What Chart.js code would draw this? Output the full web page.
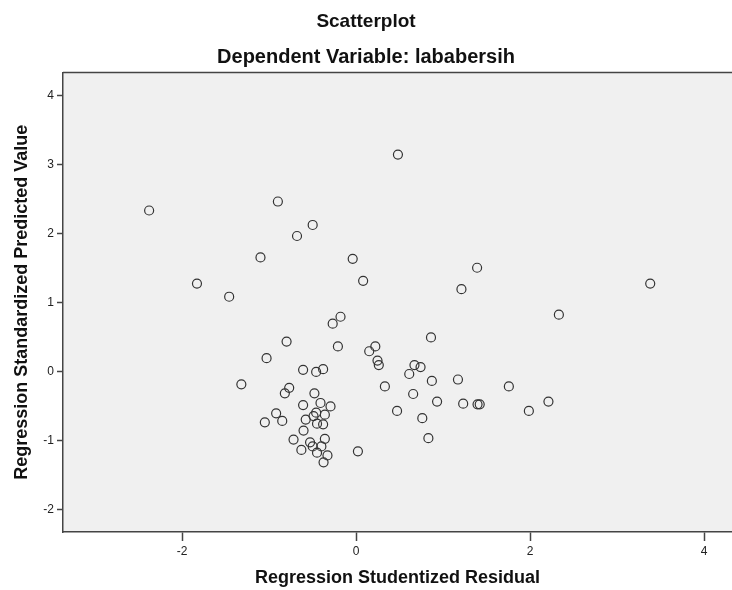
<!DOCTYPE html>
<html>
<head>
<meta charset="utf-8">
<script src="https://cdn.jsdelivr.net/npm/chart.js@4.4.1/dist/chart.umd.min.js"></script>
<style>
	body { margin: 0; background: #fff; }
	#wrap { width: 732px; height: 590px; position: relative; }
</style>
</head>
<body>
<div id="wrap"><canvas id="scatter"></canvas></div>
<script>
// values
const residual = [
	0.48, -2.38, -0.90, -0.50, -0.68, -1.10, -0.04, 1.39, 0.08, -1.83,
	3.38, 1.21, -1.46, 2.33, -0.18, -0.27, 0.86, -0.80, -0.21, 0.22,
	0.15, -1.03, 0.245, 0.26, 0.67, 0.74, -0.38, -0.61, -0.46, 0.61,
	1.17, 0.87, -1.32, 0.33, 1.755, -0.77, -0.82, -0.48, 0.655, 2.21,
	0.93, -0.41, 1.23, 1.395, 1.42, -0.61, -0.295, 0.47, 1.985, -0.46,
	-0.92, -0.36, -0.49, 0.76, -0.58, -0.85, -1.05, -0.45, -0.38, -0.605,
	0.83, -0.36, -0.72, -0.53, -0.50, -0.40, -0.63, 0.02, -0.45, -0.33,
	-0.375,
];
const predicted = [
	3.14, 2.33, 2.46, 2.12, 1.96, 1.65, 1.63, 1.50, 1.31, 1.27,
	1.27, 1.19, 1.08, 0.82, 0.79, 0.69, 0.49, 0.43, 0.36, 0.36,
	0.29, 0.19, 0.155, 0.09, 0.09, 0.06, 0.03, 0.02, -0.01, -0.04,
	-0.12, -0.14, -0.19, -0.22, -0.22, -0.24, -0.32, -0.32, -0.33, -0.44,
	-0.44, -0.46, -0.47, -0.48, -0.48, -0.49, -0.51, -0.575, -0.575, -0.60,
	-0.61, -0.63, -0.65, -0.68, -0.70, -0.72, -0.74, -0.76, -0.77, -0.86,
	-0.97, -0.98, -0.99, -1.03, -1.09, -1.09, -1.14, -1.16, -1.18, -1.22,
	-1.32,
];
const xTicks = [-2, 0, 2, 4];
const yTicks = [-2, -1, 0, 1, 2, 3, 4];

const points = residual.map((x, i) => ({ x: x, y: predicted[i] }));

const fontFamily = "'Liberation Sans', Arial, sans-serif";

// grey plot background and the top frame line
const plotFrame = {
	id: 'plotFrame',
	beforeDraw(chart) {
		const { ctx, chartArea: a } = chart;
		ctx.save();
		ctx.fillStyle = '#f0f0f0';
		ctx.fillRect(a.left, a.top, a.right - a.left, a.bottom - a.top);
		ctx.strokeStyle = '#444';
		ctx.lineWidth = 1.5;
		ctx.beginPath();
		ctx.moveTo(a.left, a.top);
		ctx.lineTo(a.right, a.top);
		ctx.stroke();
		ctx.restore();
	},
};

new Chart(document.getElementById('scatter'), {
	type: 'scatter',
	data: {
		datasets: [
			{
				data: points,
				pointRadius: 4.5,
				pointBorderWidth: 1.2,
				pointBorderColor: '#333',
				pointBackgroundColor: 'rgba(0,0,0,0)',
			},
		],
	},
	options: {
		responsive: true,
		maintainAspectRatio: false,
		animation: false,
		layout: { padding: 0, autoPadding: false },
		scales: {
			x: {
				type: 'linear',
				min: -3.37,
				max: 4.32,
				afterFit: (s) => {
					s.height = 58;
					s.paddingLeft = 0;
					s.paddingRight = 0;
				},
				afterBuildTicks: (s) => { s.ticks = xTicks.map((v) => ({ value: v })); },
				ticks: { color: '#222', padding: 3, font: { family: fontFamily, size: 12 } },
				grid: { drawOnChartArea: false, drawTicks: true, tickLength: 9, color: '#444', tickWidth: 1.5 },
				border: { display: true, color: '#444', width: 1.5 },
				title: {
					display: true,
					text: 'Regression Studentized Residual',
					color: '#111',
					padding: { bottom: 1 },
					font: { family: fontFamily, size: 18, weight: 'bold' },
				},
			},
			y: {
				type: 'linear',
				min: -2.33,
				max: 4.33,
				afterFit: (s) => { s.width = 63; },
				afterBuildTicks: (s) => { s.ticks = yTicks.map((v) => ({ value: v })); },
				ticks: { color: '#222', padding: 3, font: { family: fontFamily, size: 12 } },
				grid: { drawOnChartArea: false, drawTicks: true, tickLength: 6, color: '#444', tickWidth: 1.5 },
				border: { display: true, color: '#444', width: 1.5 },
				title: {
					display: true,
					text: 'Regression Standardized Predicted Value',
					color: '#111',
					padding: { top: 11 },
					font: { family: fontFamily, size: 18, weight: 'bold' },
				},
			},
		},
		plugins: {
			legend: { display: false },
			tooltip: { enabled: false },
			title: {
				display: true,
				text: 'Scatterplot',
				color: '#111',
				padding: { top: 10.6, bottom: 0 },
				font: { family: fontFamily, size: 19, weight: 'bold' },
			},
			subtitle: {
				display: true,
				text: 'Dependent Variable: lababersih',
				color: '#111',
				padding: { top: 12.1, bottom: 3 },
				font: { family: fontFamily, size: 20, weight: 'bold' },
			},
		},
	},
	plugins: [plotFrame],
});
</script>
</body>
</html>
